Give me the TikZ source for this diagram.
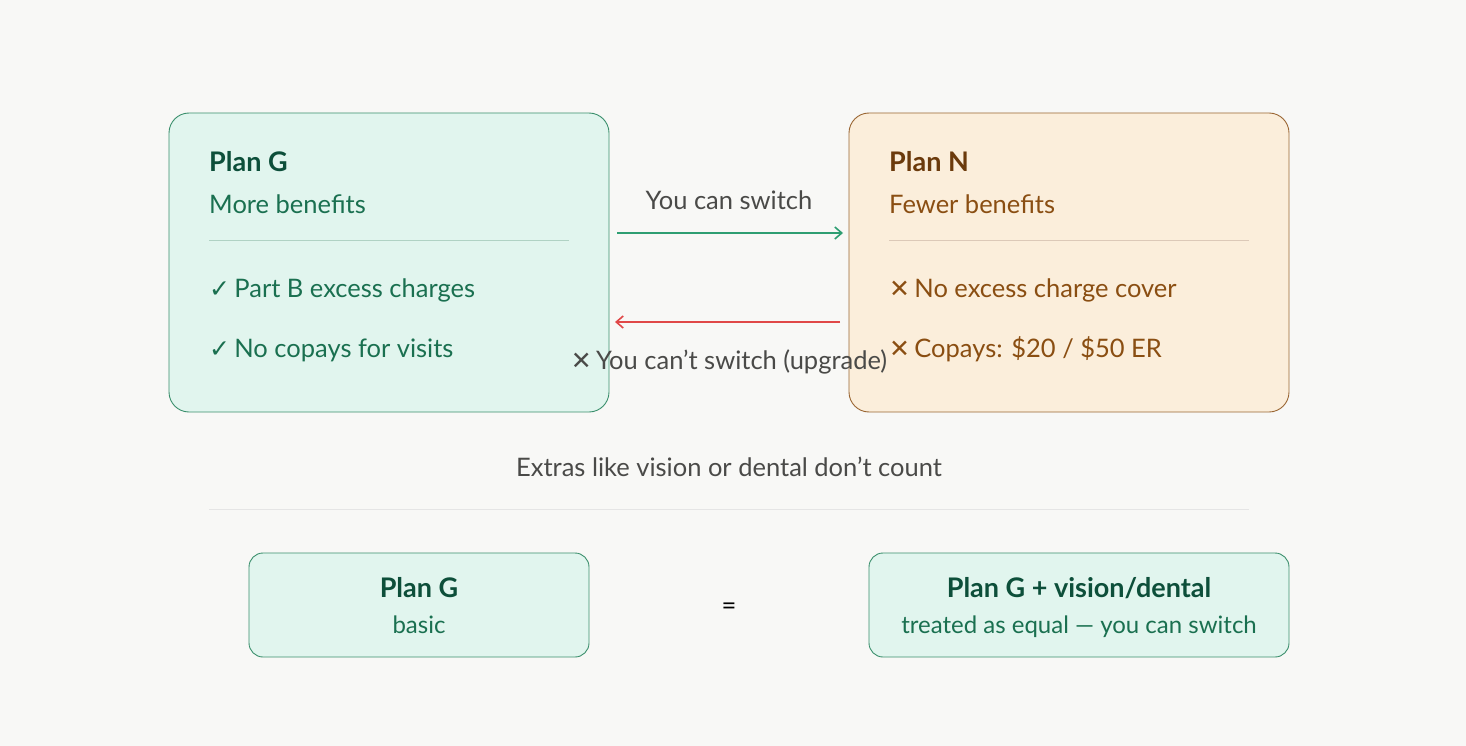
\documentclass[tikz,border=0pt]{standalone}
\usepackage{fontspec}
\setmainfont{Lato}
\newfontfamily\sym{DejaVu Sans}
\usetikzlibrary{arrows.meta}
\definecolor{bg}{HTML}{F8F8F6}
\definecolor{gfill}{HTML}{E1F5EE}
\definecolor{gline}{HTML}{3A8F6C}
\definecolor{gdark}{HTML}{0D4F3A}
\definecolor{gtxt}{HTML}{1A7050}
\definecolor{nfill}{HTML}{FBEEDB}
\definecolor{nline}{HTML}{9A6633}
\definecolor{ndark}{HTML}{6B3A0C}
\definecolor{ntxt}{HTML}{8A4E12}
\definecolor{grey}{HTML}{4A4A48}
\definecolor{arrg}{HTML}{2E9E72}
\definecolor{arrr}{HTML}{E04848}
\newcommand{\ck}{{\sym\fontsize{25}{28}\selectfont ✓}}
\newcommand{\xx}{{\sym\fontsize{25}{28}\selectfont ✕}}
\begin{document}
\begin{tikzpicture}[x=1pt,y=-1pt,
  big/.style={rounded corners=20pt,line width=0.9pt},
  small/.style={rounded corners=14pt,line width=0.9pt,draw=gline,fill=gfill},
  t/.style={anchor=base west,inner sep=0pt,font=\fontsize{27}{30}\selectfont\bfseries},
  b/.style={anchor=base west,inner sep=0pt,font=\fontsize{25.5}{28}\selectfont},
  lab/.style={inner sep=0pt,font=\fontsize{25.5}{28}\selectfont,text=grey,anchor=base}]
\useasboundingbox[fill=bg] (0,0) rectangle (1466,746);
\draw[big,draw=gline,fill=gfill] (169,113) rectangle (609,412);
\draw[big,draw=nline,fill=nfill] (849,113) rectangle (1289,412);
\node[t,text=gdark] (gt) at (209,172) {Plan G};
\node[b,text=gtxt] (gs) at (209,213) {More benefits};
\draw[gline!40,line width=1pt] (209,240) -- (569,240);
\node[b,text=gtxt] (g1) at (209,297) {\ck\,Part B excess charges};
\node[b,text=gtxt] (g2) at (209,357) {\ck\,No copays for visits};
\node[t,text=ndark] (nt) at (889,172) {Plan N};
\node[b,text=ntxt] (ns) at (889,213) {Fewer benefits};
\draw[nline!35,line width=1pt] (889,240) -- (1249,240);
\node[b,text=ntxt] (n1) at (889,297) {\xx\,No excess charge cover};
\node[b,text=ntxt] (n2) at (889,357) {\xx\,Copays: \$20 / \$50 ER};
\coordinate (a1) at (617,233); \coordinate (a2) at (843,233);
\coordinate (r1) at (840,322); \coordinate (r2) at (615,322);
\draw[arrg,line width=1.6pt,-{Straight Barb[length=7pt,width=12pt]}] (a1) -- (a2);
\draw[arrr,line width=1.6pt,-{Straight Barb[length=7pt,width=12pt]}] (r1) -- (r2);
\node[lab] (l1) at (729,209) {You can switch};
\node[lab] (l2) at (729,369) {\xx\,You can’t switch (upgrade)};
\node[lab] (ex) at (729,476) {Extras like vision or dental don’t count};
\draw[black!10,line width=1pt] (209,509) -- (1249,509);
\draw[small] (249,553) rectangle (589,657);
\node[inner sep=0pt,anchor=base,font=\fontsize{27}{30}\selectfont\bfseries,text=gdark] (p1) at (419,597) {Plan G};
\node[inner sep=0pt,anchor=base,font=\fontsize{24}{28}\selectfont,text=gtxt] (p1s) at (419,633) {basic};
\draw[small] (869,553) rectangle (1289,657);
\node[inner sep=0pt,anchor=base,font=\fontsize{27}{30}\selectfont\bfseries,text=gdark] (p2) at (1079,597) {Plan G + vision/dental};
\node[inner sep=0pt,anchor=base,font=\fontsize{24}{28}\selectfont,text=gtxt] (p2s) at (1079,633) {treated as equal — you can switch};
\node[inner sep=0pt,anchor=base,font=\fontsize{25.5}{28}\selectfont] (eq) at (729,614) {=};
\end{tikzpicture}
\end{document}
